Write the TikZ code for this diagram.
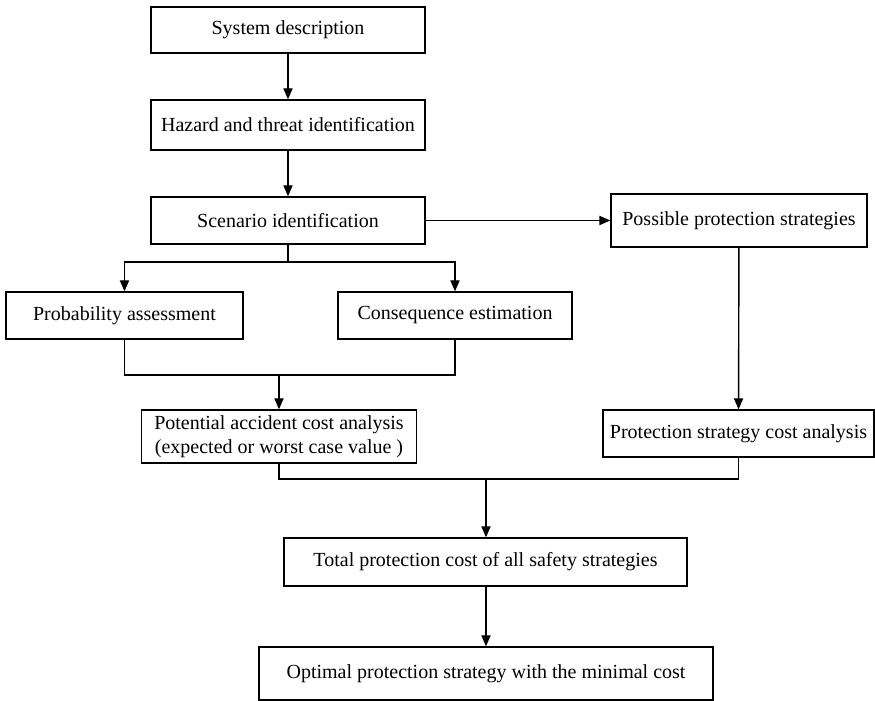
\documentclass[tikz,border=0pt]{standalone}
\usepackage{fontspec}
\setmainfont{Liberation Serif}
\usetikzlibrary{arrows.meta,positioning}

\begin{document}
\begin{tikzpicture}[
    x=0.5pt, y=0.5pt,
    every node/.style={font=\normalsize},
    box/.style={draw, line width=0.7pt, align=center, inner sep=2pt},
    flow/.style={-{Triangle[length=5.5pt, width=4.6pt]}, line width=0.7pt},
    link/.style={line width=0.7pt}
]
\useasboundingbox (0,0) rectangle (875,701);
% main column
\node[box, minimum width=137pt, minimum height=23pt] (sysdesc) at (288,671) {System description};
\node[box, minimum width=137pt, minimum height=25pt] (hazard) at (288,576) {Hazard and threat identification};
\node[box, minimum width=137pt, minimum height=23.5pt] (scenario) at (288,480.5) {Scenario identification};
\node[box, minimum width=128pt, minimum height=26.5pt] (possible) at (739,480.5) {Possible protection strategies};
\node[box, minimum width=118.5pt, minimum height=23.5pt] (probab) at (124.5,385.5) {Probability assessment};
\node[box, minimum width=117pt, minimum height=23.5pt] (conseq) at (455,385.5) {Consequence estimation};
\node[box, minimum width=137.5pt, minimum height=26.5pt] (accost) at (279,264.5) {Potential accident cost analysis\\(expected or worst case value )};
\node[box, minimum width=135.5pt, minimum height=23.5pt] (stratcost) at (738.5,267.5) {Protection strategy cost analysis};
\node[box, minimum width=201.5pt, minimum height=24pt] (total) at (485.5,139) {Total protection cost of all safety strategies};
\node[box, minimum width=227pt, minimum height=26.5pt] (optimal) at (486,27.5) {Optimal protection strategy with the minimal cost};
% junction points
\coordinate (split) at (288,439);
\coordinate (merge) at (279,326);
\coordinate (join) at (486,222);
\draw[flow] (sysdesc) -- (hazard);
\draw[flow] (hazard) -- (scenario);
\draw[flow] (scenario.east) -- (possible.west);
\draw[link] (scenario.south) -- (split);
\draw[flow] (split) -| (probab.north);
\draw[flow] (split) -| (conseq.north);
\draw[link] (probab.south) |- (merge) -| (conseq.south);
\draw[flow] (merge) -- (accost.north);
\draw[flow] (possible) -- (stratcost);
\draw[link] (accost.south) |- (join) -| (stratcost.south);
\draw[flow] (join) -- (total.north -| join);
\draw[flow] (total.south -| join) -- (optimal.north -| join);
\end{tikzpicture}
\end{document}
